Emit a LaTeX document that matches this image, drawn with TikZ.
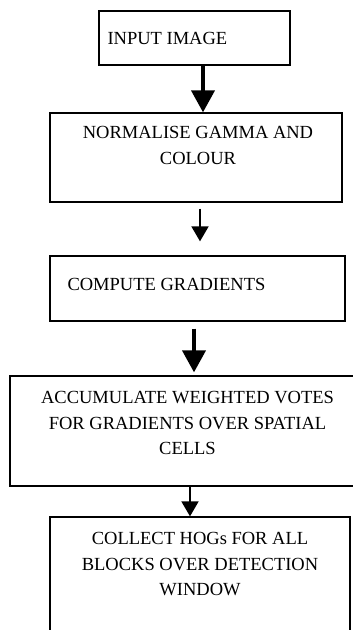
\documentclass[tikz,border=0pt]{standalone}
\usepackage{fontspec}
\setmainfont{Liberation Serif}
\usetikzlibrary{positioning,arrows.meta}

\begin{document}
\begin{tikzpicture}[x=1pt,y=-1pt,
    box/.style={draw,line width=1.3pt,inner sep=0pt},
    txt/.style={inner sep=0pt,align=center,font=\fontsize{18.5pt}{25.5pt}\selectfont},
    bigarrow/.style={line width=4pt,-{Triangle[width=23pt,length=22pt]}},
    smallarrow/.style={line width=1.8pt,-{Triangle[width=17pt,length=15pt]}}]
        \useasboundingbox (0,0) rectangle (353,630);
        \node(B1) [box,minimum width=191pt,minimum height=54pt] at (194.5,38) {};
        \node(B2) [box,minimum width=292pt,minimum height=89pt] at (196,157.5) {};
        \node(B3) [box,minimum width=295pt,minimum height=65pt] at (197.5,288.5) {};
        \node(B4) [box,minimum width=355pt,minimum height=110pt] at (187.5,431) {};
        \node(B5) [box,minimum width=300pt,minimum height=143pt] at (200,588.5) {};
        \node(T1) [txt,below right=22pt and 9pt of B1.north west] {INPUT IMAGE};
        \node(T2) [txt,below=14pt of B2.north,xshift=2pt] {NORMALISE GAMMA AND\\COLOUR};
        \node(T3) [txt,below right=23pt and 18pt of B3.north west] {COMPUTE GRADIENTS};
        \node(T4) [txt,below=16pt of B4.north] {ACCUMULATE WEIGHTED VOTES\\FOR GRADIENTS OVER SPATIAL\\CELLS};
        \node(T5) [txt,below=16pt of B5.north] {COLLECT HOGs FOR ALL\\BLOCKS OVER DETECTION\\WINDOW};
        \draw[bigarrow] ([xshift=8.5pt]B1.south) -- ([xshift=7pt]B2.north);
        \draw[smallarrow,shorten <=6pt,shorten >=14pt] ([xshift=4pt]B2.south) -- ([xshift=2.5pt]B3.north);
        \draw[bigarrow,shorten <=7pt,shorten >=3pt] ([xshift=-3.5pt]B3.south) -- ([xshift=6.5pt]B4.north);
        \draw[smallarrow] ([xshift=2.5pt]B4.south) -- ([xshift=-10pt]B5.north);
\end{tikzpicture}
\end{document}
